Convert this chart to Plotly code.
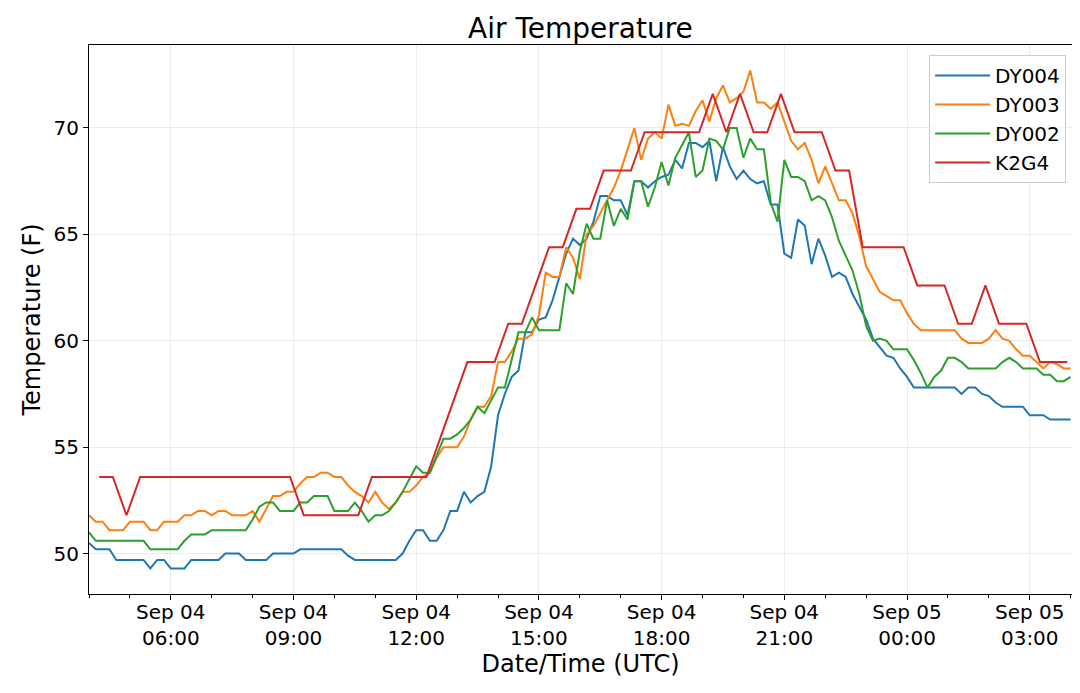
import pandas as pd
import plotly.graph_objects as go

# 10-minute station readings, Sep 04 04:00 -> Sep 05 04:00 (UTC)
dy_times = pd.date_range("2020-09-04 04:00", periods=145, freq="10min")

dy004 = [
    50.5, 50.2, 50.2, 50.2, 49.7, 49.7, 49.7, 49.7, 49.7, 49.3, 49.7, 49.7, 49.3,
    49.3, 49.3, 49.7, 49.7, 49.7, 49.7, 49.7, 50.0, 50.0, 50.0, 49.7, 49.7, 49.7,
    49.7, 50.0, 50.0, 50.0, 50.0, 50.2, 50.2, 50.2, 50.2, 50.2, 50.2, 50.2, 49.9,
    49.7, 49.7, 49.7, 49.7, 49.7, 49.7, 49.7, 50.0, 50.6,
    51.1, 51.1, 50.6, 50.6, 51.1, 52.0, 52.0, 52.9, 52.4, 52.7, 52.9, 54.1, 56.5,
    57.5, 58.3, 58.6, 60.4, 60.4, 61.0, 61.1, 61.9, 63.0, 64.1, 64.8, 64.5, 64.8,
    65.6, 66.8, 66.8, 66.6, 66.6, 65.9, 67.5, 67.5, 67.2, 67.5, 67.7, 67.8, 68.5,
    68.1, 69.3, 69.3, 69.1, 69.4, 67.5, 69.1, 68.2, 67.6, 68.0, 67.6, 67.4, 67.5,
    66.4, 66.4,
    64.1, 63.9, 65.7, 65.4, 63.6, 64.8, 64.0, 63.0, 63.2, 63.0, 62.2, 61.6, 61.0,
    60.1, 59.7, 59.3, 59.2, 58.7, 58.3, 57.8, 57.8, 57.8, 57.8, 57.8, 57.8, 57.8,
    57.5, 57.8, 57.8, 57.5, 57.4, 57.1, 56.9, 56.9, 56.9, 56.9, 56.5, 56.5, 56.5,
    56.3, 56.3, 56.3, 56.3,
]

dy003 = [
    51.8, 51.5, 51.5, 51.1, 51.1, 51.1, 51.5, 51.5, 51.5, 51.1, 51.1, 51.5, 51.5,
    51.5, 51.8, 51.8, 52.0, 52.0, 51.8, 52.0, 52.0, 51.8, 51.8, 51.8, 52.0,
    51.5, 52.1, 52.7, 52.7, 52.9, 52.9, 53.3, 53.6, 53.6, 53.8, 53.8, 53.6, 53.6,
    53.2, 52.9, 52.7, 52.4, 52.9, 52.4, 52.1, 52.4, 52.9, 52.9, 53.2, 53.6,
    53.8, 54.5, 55.0, 55.0, 55.0, 55.5, 56.3, 56.9, 56.9, 57.4, 59.0, 59.0, 59.5,
    60.1, 60.1, 60.3, 61.2, 63.2, 63.0, 63.0, 64.4, 63.9, 62.9, 65.0, 65.4,
    66.0, 66.6, 67.2, 68.0, 69.0, 70.0, 68.5, 69.5, 69.8, 69.5, 71.1, 70.1, 70.2,
    70.1, 70.8, 71.3, 70.3, 71.4, 72.0, 71.2, 71.4, 71.7, 72.7, 71.2, 71.2,
    70.9, 71.2, 70.3, 69.4, 69.0, 69.3, 68.5, 67.4, 68.2, 67.4, 66.6, 66.6, 66.0,
    64.9, 63.5, 62.9, 62.3, 62.1, 61.9, 61.9, 61.3, 60.8, 60.5, 60.5, 60.5,
    60.5, 60.5, 60.5, 60.1, 59.9, 59.9, 59.9, 60.1, 60.5, 60.1, 60.0, 59.6, 59.3,
    59.3, 59.0, 58.7, 59.0, 58.9, 58.7, 58.7,
]

dy002 = [
    51.0, 50.6, 50.6, 50.6, 50.6, 50.6, 50.6, 50.6, 50.6, 50.2, 50.2, 50.2, 50.2,
    50.2, 50.6, 50.9, 50.9, 50.9, 51.1, 51.1, 51.1, 51.1, 51.1, 51.1, 51.6,
    52.2, 52.4, 52.4, 52.0, 52.0, 52.0, 52.4, 52.4, 52.7, 52.7, 52.7, 52.0, 52.0,
    52.0, 52.4, 52.0, 51.5, 51.8, 51.8, 52.0, 52.4, 52.9, 53.5, 54.1, 53.8,
    53.8, 54.6, 55.4, 55.4, 55.6, 55.9, 56.3, 56.9, 56.6, 57.2, 57.8, 57.8, 59.1,
    60.4, 60.4, 61.1, 60.5, 60.5, 60.5, 60.5, 62.7, 62.2, 64.2, 65.5, 64.8,
    64.8, 66.6, 65.4, 66.2, 65.7, 67.5, 67.5, 66.3, 67.2, 68.4, 67.3, 68.6, 69.2,
    69.8, 67.7, 68.0, 69.5, 69.4, 69.0, 70.0, 70.0, 68.6, 69.5, 69.0, 69.0,
    66.5, 65.6, 68.5, 67.7, 67.7, 67.5, 66.6, 66.8, 66.6, 65.8, 64.7, 64.0, 63.3,
    62.2, 60.7, 60.0, 60.1, 60.0, 59.6, 59.6, 59.6, 59.1, 58.5, 57.8, 58.3,
    58.6, 59.2, 59.2, 59.0, 58.7, 58.7, 58.7, 58.7, 58.7, 59.0, 59.2, 59.0, 58.7,
    58.7, 58.7, 58.4, 58.4, 58.1, 58.1, 58.3,
]

# airport observations every 20 minutes (:15, :35, :55)
k2g4_times = pd.date_range("2020-09-04 04:15", periods=72, freq="20min")
k2g4 = [
    53.6, 53.6, 51.8, 53.6, 53.6, 53.6, 53.6, 53.6, 53.6, 53.6, 53.6, 53.6,
    53.6, 53.6, 53.6, 51.8, 51.8, 51.8, 51.8, 51.8, 53.6, 53.6, 53.6, 53.6,
    53.6, 55.4, 57.2, 59.0, 59.0, 59.0, 60.8, 60.8, 62.6, 64.4, 64.4, 66.2,
    66.2, 68.0, 68.0, 68.0, 69.8, 69.8, 69.8, 69.8, 69.8, 71.6, 69.8, 71.6,
    69.8, 69.8, 71.6, 69.8, 69.8, 69.8, 68.0, 68.0, 64.4, 64.4, 64.4, 64.4,
    62.6, 62.6, 62.6, 60.8, 60.8, 62.6, 60.8, 60.8, 60.8, 59.0, 59.0, 59.0,
]

series = [
    ("DY004", dy_times, dy004, "#1f77b4"),
    ("DY003", dy_times, dy003, "#ff7f0e"),
    ("DY002", dy_times, dy002, "#2ca02c"),
    ("K2G4", k2g4_times, k2g4, "#d62728"),
]

fig = go.Figure()
for name, t, vals, color in series:
    fig.add_trace(go.Scatter(x=t, y=vals, name=name, mode="lines",
                             line=dict(color=color, width=2)))

font = "DejaVu Sans"

# page body has an 8px margin, so the figure is a bit smaller than the window
fig.update_layout(
    width=1072,
    height=685,
    margin=dict(l=81, r=8, t=37, b=99),
    plot_bgcolor="white",
    paper_bgcolor="white",
    font=dict(family=font, size=20, color="black"),
    title=dict(text="Air Temperature", x=0.534, xanchor="center",
               y=0.971, yref="container", yanchor="middle",
               font=dict(size=28, family=font, color="black")),
    legend=dict(x=0.994, y=0.982, xanchor="right", yanchor="top",
                bgcolor="rgba(255,255,255,0.8)", bordercolor="#cccccc",
                borderwidth=1, font=dict(size=20, family=font),
                tracegroupgap=0, itemwidth=55),
    showlegend=True,
)

fig.update_xaxes(
    range=["2020-09-04 04:00", "2020-09-05 04:02"],
    tickformat="%b %d<br>%H:%M",
    tick0="2020-09-04 00:00",
    dtick=3 * 3600 * 1000,
    ticks="outside", ticklen=5, tickcolor="black",
    ticklabelstandoff=-5,
    minor=dict(dtick=3600 * 1000, ticks="outside", ticklen=3,
               tickcolor="black", showgrid=False),
    showgrid=True, gridcolor="#ebebeb", gridwidth=1,
    showline=True, linecolor="black", linewidth=1, mirror=True,
    zeroline=False, automargin=False,
    tickfont=dict(size=20),
    title=dict(text="Date/Time (UTC)", font=dict(size=24), standoff=2),
)

fig.update_yaxes(
    range=[48.1, 73.9],
    tick0=50, dtick=5,
    ticks="outside", ticklen=5, tickcolor="black",
    showgrid=True, gridcolor="#ebebeb", gridwidth=1,
    showline=True, linecolor="black", linewidth=1, mirror=True,
    zeroline=False, automargin=False,
    tickfont=dict(size=20),
    title=dict(text="Temperature (F)", font=dict(size=24), standoff=6),
)

fig.write_html("out.html")
